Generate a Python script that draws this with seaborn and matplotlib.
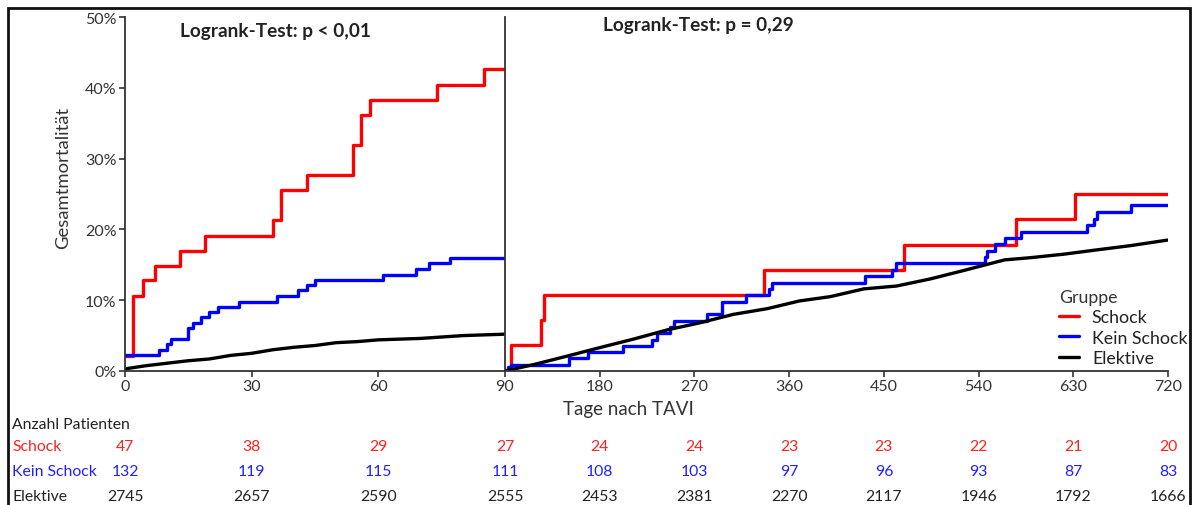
import numpy as np
import pandas as pd
import matplotlib
matplotlib.use("Agg")
import matplotlib.pyplot as plt
import seaborn as sns
from matplotlib.lines import Line2D
from matplotlib.patches import Rectangle
from matplotlib.transforms import blended_transform_factory
from matplotlib.ticker import FuncFormatter

# ---------------- data ----------------
groups = ["Schock", "Kein Schock", "Elektive"]
colors = {"Schock": "#ff0000", "Kein Schock": "#0000ff", "Elektive": "#000000"}

# left panel (0-90 days), cumulative mortality in %
schock_t_early = [0, 2, 4.3, 7.1, 13.1, 19, 35, 37, 43, 54, 56, 58, 74, 85, 90]
schock_v_early = [2.1, 10.6, 12.8, 14.9, 17.0, 19.1, 21.3, 25.5, 27.7, 31.9, 36.2, 38.3, 40.4, 42.6, 42.6]

kein_t_early = [0, 8, 10, 11, 15, 16, 18, 20, 22, 27, 36, 41, 43, 45, 61, 69, 72, 77, 90]
kein_v_early = [2.3, 3.0, 3.8, 4.5, 6.1, 6.8, 7.6, 8.3, 9.1, 9.8, 10.6, 11.4, 12.1, 12.9, 13.6, 14.4, 15.2, 15.9, 15.9]

elek_t_early = [0, 5, 10, 15, 20, 25, 30, 35, 40, 45, 50, 55, 60, 65, 70, 75, 80, 85, 90]
elek_v_early = [0.3, 0.75, 1.1, 1.45, 1.7, 2.2, 2.5, 3.0, 3.35, 3.6, 4.0, 4.15, 4.4, 4.5, 4.6, 4.8, 5.0, 5.1, 5.2]

# right panel (landmark 90-720 days)
schock_t_late = [90, 96, 124, 127, 336, 469, 576, 632, 720]
schock_v_late = [0, 3.7, 7.2, 10.8, 14.3, 17.8, 21.4, 25.0, 25.0]

kein_t_late = [90, 93, 96, 151, 169, 202, 230, 234, 247, 251, 282, 296, 319, 341, 344,
               432, 458, 462, 546, 548, 556, 565, 580, 643, 650, 653, 685, 720]
kein_v_late = [0, 0.5, 0.9, 1.8, 2.7, 3.6, 4.4, 5.3, 6.2, 7.1, 8.0, 9.8, 10.7, 11.6, 12.5,
               13.4, 14.3, 15.2, 16.1, 17.0, 17.9, 18.8, 19.7, 20.6, 21.5, 22.4, 23.4, 23.4]

elek_t_late = [90, 96, 117, 149, 180, 212, 244, 275, 307, 339, 370, 399, 431, 462, 494,
               526, 557, 565, 589, 621, 652, 684, 720]
elek_v_late = [0, 0.2, 0.9, 2.1, 3.3, 4.5, 5.8, 6.8, 8.0, 8.8, 9.9, 10.5, 11.6, 12.0, 13.0,
               14.2, 15.4, 15.7, 16.0, 16.5, 17.1, 17.7, 18.5]

# number at risk
risk_times = [0, 30, 60, 90, 180, 270, 360, 450, 540, 630, 720]
risk_schock = [47, 38, 29, 27, 24, 24, 23, 23, 22, 21, 20]
risk_kein = [132, 119, 115, 111, 108, 103, 97, 96, 93, 87, 83]
risk_elek = [2745, 2657, 2590, 2555, 2453, 2381, 2270, 2117, 1946, 1792, 1666]

left_ticks = [0, 30, 60, 90]
right_ticks = [180, 270, 360, 450, 540, 630, 720]
y_ticks = [0, 10, 20, 30, 40, 50]


def frame(t, v, g):
    return pd.DataFrame({"Tage": t, "Mortalitaet": v, "Gruppe": g})


df_early = pd.concat([frame(schock_t_early, schock_v_early, "Schock"),
                      frame(kein_t_early, kein_v_early, "Kein Schock"),
                      frame(elek_t_early, elek_v_early, "Elektive")], ignore_index=True)
df_late = pd.concat([frame(schock_t_late, schock_v_late, "Schock"),
                     frame(kein_t_late, kein_v_late, "Kein Schock"),
                     frame(elek_t_late, elek_v_late, "Elektive")], ignore_index=True)

# ---------------- style ----------------
sns.set_style("ticks")
plt.rcParams["font.family"] = ["Lato", "DejaVu Sans"]
spine_col = "#333333"
text_col = "#333333"

W, H = 1197, 506
fig = plt.figure(figsize=(W / 100, H / 100), dpi=100)


def fx(px):
    return px / W


def fy(py):
    return 1 - py / H


top, bot = 18, 372
axL = fig.add_axes([fx(125), fy(bot), fx(505) - fx(125), fy(top) - fy(bot)])
axR = fig.add_axes([fx(505), fy(bot), fx(1168) - fx(505), fy(top) - fy(bot)])

lw = 2.4
for ax, df in ((axL, df_early), (axR, df_late)):
    steps = df[df["Gruppe"] != "Elektive"]
    smooth = df[df["Gruppe"] == "Elektive"]
    sns.lineplot(data=steps, x="Tage", y="Mortalitaet", hue="Gruppe",
                 palette=colors, estimator=None, drawstyle="steps-post",
                 linewidth=lw, legend=False, ax=ax, sort=True)
    sns.lineplot(data=smooth, x="Tage", y="Mortalitaet", hue="Gruppe",
                 palette=colors, estimator=None, linewidth=lw,
                 legend=False, ax=ax, sort=True)
    ax.set_ylim(0, 50)
    ax.set_xlabel("")
    ax.set_ylabel("")
    for s in ("top", "right"):
        ax.spines[s].set_visible(False)
    for s in ("left", "bottom"):
        ax.spines[s].set_color(spine_col)
        ax.spines[s].set_linewidth(1.3)
    ax.tick_params(axis="both", colors=spine_col, labelcolor=text_col,
                   labelsize=11.5, length=4, width=1.2, pad=2)

axL.set_xlim(0, 90)
axL.set_xticks(left_ticks)
axL.set_yticks(y_ticks)
axL.yaxis.set_major_formatter(FuncFormatter(lambda v, p: f"{int(v)}%"))

axR.set_xlim(90, 720)
axR.set_xticks(right_ticks)
axR.set_yticks([])

# titles / labels
fig.text(fx(180), fy(31), "Logrank-Test: p < 0,01", fontsize=13.7,
         fontweight="bold", color="#222222", ha="left", va="center")
fig.text(fx(603), fy(25), "Logrank-Test: p = 0,29", fontsize=13.7,
         fontweight="bold", color="#222222", ha="left", va="center")
fig.text(fx(628), fy(410), "Tage nach TAVI", fontsize=13.5, color=text_col,
         ha="center", va="center")
fig.text(fx(63), fy(178), "Gesamtmortalität", fontsize=13.3, color=text_col,
         rotation=90, ha="center", va="center")

# legend
handles = [Line2D([], [], color=colors[g], lw=lw) for g in groups]
leg = axR.legend(handles, groups, title="Gruppe", loc="upper left",
                 bbox_to_anchor=(fx(1059), fy(290)), bbox_transform=fig.transFigure,
                 frameon=False, fontsize=12.8, title_fontsize=12.8,
                 handlelength=1.15, handletextpad=0.7, labelspacing=0.24,
                 borderpad=0, borderaxespad=0)
leg._legend_box.align = "left"
leg.get_title().set_color(text_col)
for t in leg.get_texts():
    t.set_color("#222222")

# number at risk table
fs_tab = 11.3
fig.text(fx(12), fy(425), "Anzahl Patienten", fontsize=fs_tab, color="#222222",
         ha="left", va="center")
rows = [("Schock", risk_schock, "#ff2020", 447),
        ("Kein Schock", risk_kein, "#2020ff", 472),
        ("Elektive", risk_elek, "#222222", 497)]
for name, vals, col, ypx in rows:
    fig.text(fx(12), fy(ypx), name, fontsize=fs_tab, color=col, ha="left", va="center")
    for t, n in zip(risk_times, vals):
        ax = axL if t <= 90 else axR
        tr = blended_transform_factory(ax.transData, fig.transFigure)
        fig.text(t, fy(ypx), str(n), fontsize=fs_tab, color=col, ha="center",
                 va="center", transform=tr)

# outer frame
fig.add_artist(Rectangle((fx(8), fy(540)), fx(1190) - fx(8), fy(9) - fy(540),
                         transform=fig.transFigure, fill=False, lw=2,
                         ec="#111111", clip_on=False))

fig.savefig("out.png", dpi=100)
